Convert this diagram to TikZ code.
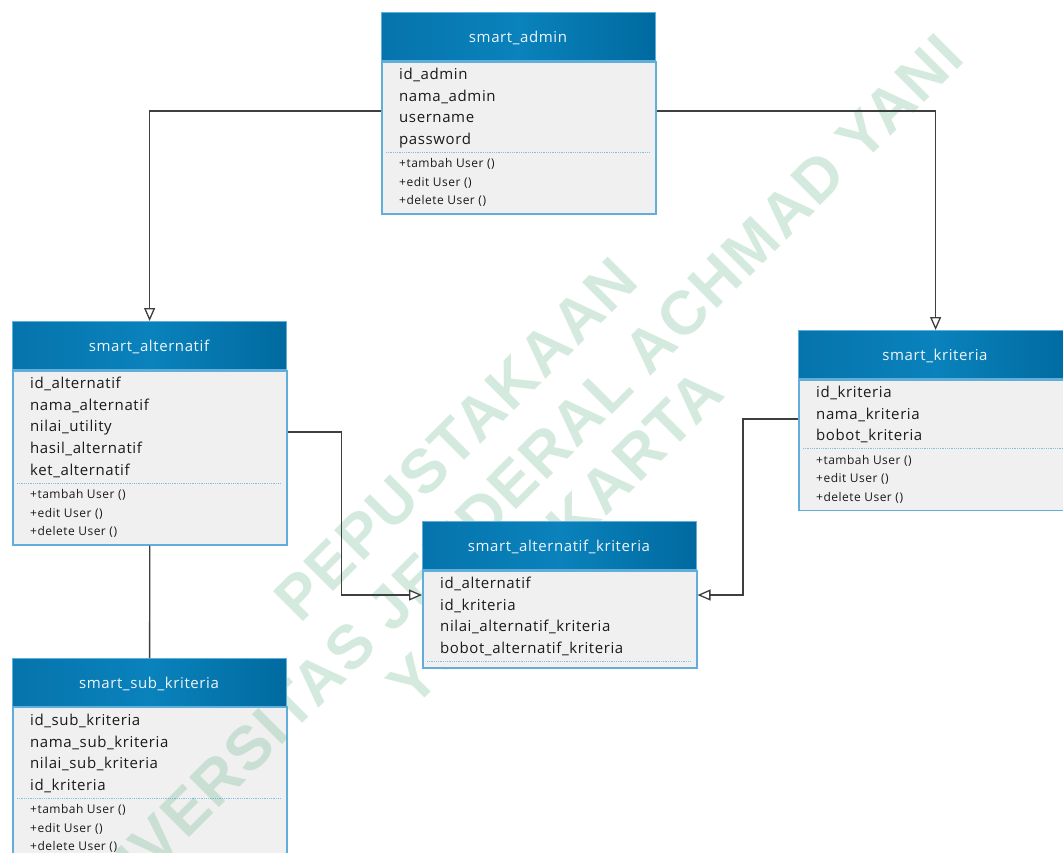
\documentclass[tikz,border=0pt]{standalone}
\usepackage{fontspec}
\setmainfont{Open Sans}[LetterSpace=4.0]
\newfontfamily\wmfont{Liberation Sans}[LetterSpace=3.0]
\usetikzlibrary{arrows.meta}

\definecolor{hdrL}{HTML}{0674AC}
\definecolor{hdrM}{HTML}{0A82BC}
\definecolor{hdrR}{HTML}{006A9F}
\definecolor{bodyc}{HTML}{F0F0F0}
\definecolor{bordc}{HTML}{62AEDA}
\definecolor{sepc}{HTML}{86C0E0}
\definecolor{linec}{HTML}{3F3F3F}
\definecolor{txtc}{HTML}{1A1A1A}
\definecolor{ttlc}{HTML}{EEF5FA}
\definecolor{wmc}{RGB}{87,175,127}

\tikzset{
  hdr/.style={rectangle, draw=bordc, line width=1.2pt, left color=hdrL, right color=hdrR,
    middle color=hdrM, minimum width=274, minimum height=48, inner sep=0, anchor=north west},
  bodybox/.style={rectangle, draw=bordc, line width=1.5pt, fill=bodyc, minimum width=274,
    inner sep=0, anchor=north west},
  ttl/.style={anchor=base, text=ttlc, font=\fontsize{15}{18}\selectfont, inner sep=0},
  fld/.style={anchor=base west, text=txtc, font=\fontsize{15}{18}\selectfont, inner sep=0},
  mth/.style={anchor=base west, text=txtc, font=\fontsize{12}{14}\selectfont, inner sep=0},
  sepline/.style={draw=sepc, line width=0.9pt, dash pattern=on 0.9pt off 0.9pt},
  conn/.style={draw=linec, line width=1.3pt},
  tri/.style={-{Triangle[length=13pt,width=11pt,fill=white]}},
  wm/.style={text=wmc, text opacity=0.25, font=\wmfont\bfseries\fontsize{61.5}{64}\selectfont,
    rotate=45, inner sep=0, text height=44pt, text depth=0pt},
}

% header + body of a class: name, left, top, title, body height
\newcommand\classbox[5]{%
  \node[hdr] (#1) at (#2,#3) {};
  \node[bodybox, minimum height=#5] (#1-b) at (#1.south west) {};
  \node[ttl] (#1-t) at ({#2+137},{#3+30.3}) {#4};
}
% the header alone (drawn above the watermark)
\newcommand\classhead[4]{%
  \node[hdr] (#1) at (#2,#3) {};
  \node[ttl] (#1-t) at ({#2+137},{#3+30.3}) {#4};
}
% rows of text: name prefix, style, x, first baseline, pitch, list
\newcommand\umlrows[6]{%
  \foreach \t [count=\i] in {#6} \node[#2] (#1\i) at (#3,{#4+#5*(\i-1)}) {\t};
}

\begin{document}
\begin{tikzpicture}[x=1pt,y=-1pt]
\useasboundingbox (0,0) rectangle (1063,852);
\fill[white] (0,0) rectangle (1063,852);

% smart_admin
\classbox{admin}{381}{12}{smart\_admin}{152}
\umlrows{admin-f}{fld}{399}{79.3}{21.7}{id\_admin, nama\_admin, username, password}
\draw[sepline] (386,152) -- (650,152);
\umlrows{admin-m}{mth}{399}{167.7}{18.5}{+tambah User (), +edit User (), +delete User ()}

% smart_alternatif
\classbox{alt}{12}{321}{smart\_alternatif}{174}
\umlrows{alt-f}{fld}{30}{388.3}{21.7}{id\_alternatif, nama\_alternatif, nilai\_utility, hasil\_alternatif, ket\_alternatif}
\draw[sepline] (17,483.1) -- (281,483.1);
\umlrows{alt-m}{mth}{30}{498.6}{18.5}{+tambah User (), +edit User (), +delete User ()}

% smart_kriteria
\classbox{kri}{798}{330}{smart\_kriteria}{130.7}
\umlrows{kri-f}{fld}{816}{397.3}{21.7}{id\_kriteria, nama\_kriteria, bobot\_kriteria}
\draw[sepline] (803,448.7) -- (1067,448.7);
\umlrows{kri-m}{mth}{816}{464.2}{18.5}{+tambah User (), +edit User (), +delete User ()}

% smart_sub_kriteria body
\node[bodybox, minimum height=152] (sub-b) at (12,706) {};
\umlrows{sub-f}{fld}{30}{725.3}{21.7}{id\_sub\_kriteria, nama\_sub\_kriteria, nilai\_sub\_kriteria, id\_kriteria}
\draw[sepline] (17,798.4) -- (281,798.4);
\umlrows{sub-m}{mth}{30}{813.9}{18.5}{+tambah User (), +edit User (), +delete User ()}

% library watermark
\node[wm] (wm1) at (455.4,438.4) {PEPUSTAKAAN};
\node[wm] (wm2) at (506.3,489.3) {UNIVERSITAS JENDERAL ACHMAD YANI};
\node[wm] (wm3) at (554.4,537.4) {YOGYAKARTA};

% smart_sub_kriteria header
\classhead{sub}{12}{658}{smart\_sub\_kriteria}

% smart_alternatif_kriteria
\classbox{sak}{422}{521}{smart\_alternatif\_kriteria}{97}
\umlrows{sak-f}{fld}{440}{588.3}{21.7}{id\_alternatif, id\_kriteria, nilai\_alternatif\_kriteria, bobot\_alternatif\_kriteria}
\draw[sepline] (427,661.4) -- (691,661.4);

% relations
\draw[conn,tri] (admin-b.west |- 0,111) -| (alt.north);
\draw[conn,tri] (admin-b.east |- 0,111) -| (kri.north);
\draw[conn,tri] (alt-b.east |- 0,432) -- ++(54,0) |- (sak-b.west |- 0,595);
\draw[conn,tri] (kri-b.west |- 0,419) -- ++(-55,0) |- (sak-b.east |- 0,595);
\draw[conn] (alt-b.south) -- (sub.north);
\end{tikzpicture}
\end{document}
